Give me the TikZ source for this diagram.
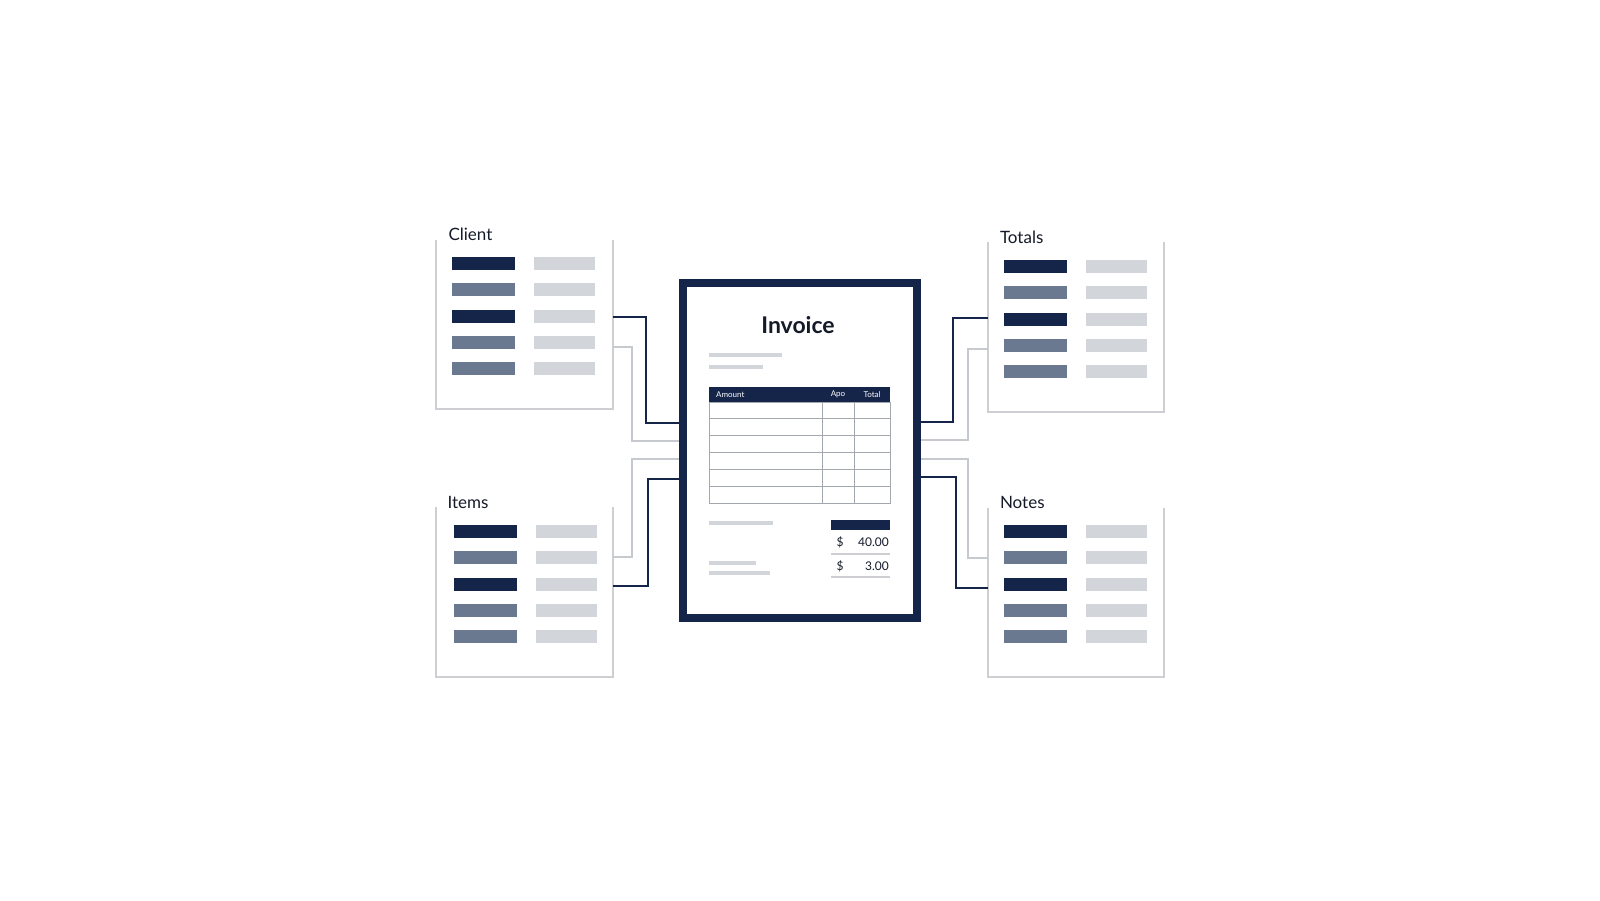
\documentclass[tikz,border=0pt]{standalone}
\usepackage{fontspec}
\setmainfont{Lato}
\usetikzlibrary{calc}
\definecolor{navy}{HTML}{15254A}
\definecolor{slate}{HTML}{6B7990}
\definecolor{barlight}{HTML}{D2D5DA}
\definecolor{edge}{HTML}{CDCFD2}
\definecolor{rule}{HTML}{A3A7AE}
\definecolor{wire}{HTML}{C6C9CD}
\definecolor{ink}{HTML}{141A28}

\begin{document}
\begin{tikzpicture}[x=1pt,y=-1pt,
    panel/.style={minimum width=176pt,minimum height=169pt,inner sep=0pt},
    frame/.style={draw=edge,line width=2pt},
    paneltitle/.style={anchor=base west,inner sep=0pt,text=ink,font=\fontsize{17}{20}\selectfont},
    linkdark/.style={draw=navy,line width=2pt},
    linklight/.style={draw=wire,line width=2pt},
    tableline/.style={draw=rule,line width=1pt},
    hdr/.style={inner sep=0pt,text=white,font=\fontsize{8}{9}\selectfont},
    amount/.style={inner sep=0pt,text=ink,font=\fontsize{12}{14}\selectfont}]
\useasboundingbox (0,0) rectangle (1600,900);

% side panels
\node[panel] (client) at (524.5,324.5) {};
\node[panel] (items) at (524.5,592) {};
\node[panel] (totals) at (1076,327) {};
\node[panel] (notes) at (1076,592.5) {};
\foreach \p/\t/\d in {client/Client/0,items/Items/1,totals/Totals/0,notes/Notes/0}{
    \draw[frame] (\p.north west) -- (\p.south west) -- (\p.south east) -- (\p.north east);
    \node[paneltitle] (\p-title) at ($(\p.north west)+(12-\d,1)$) {\t};
    \foreach \r/\c in {24/navy,50/slate,77/navy,103/slate,129/slate}{
        \fill[\c] ($(\p.north west)+(16+2*\d,\r-6.5)$) rectangle ++(63,13);
        \fill[barlight] ($(\p.north west)+(98+2*\d,\r-6.5)$) rectangle ++(61,13);
    }
}

% invoice sheet
\node[draw=navy,line width=8pt,fill=white,minimum width=234pt,minimum height=335pt] (invoice) at (800,450.5) {};
\node[text=ink,font=\bfseries\fontsize{23}{27}\selectfont] (title) at (798,325) {Invoice};
\fill[barlight] (709,353) rectangle (782,357);
\fill[barlight] (709,365) rectangle (763,369);

% table
\fill[navy] (709,387) rectangle (890,402);
\draw[tableline] (709,402) rectangle (890,503);
\foreach \y in {418,435,452,469,486}
    \draw[tableline] (709,\y) -- (890,\y);
\foreach \x in {822,854}
    \draw[tableline] (\x,402) -- (\x,503);
\node[hdr,anchor=west] (h-amount) at (716,394.5) {Amount};
\node[hdr] (h-apo) at (838,394.5) {Apo};
\node[hdr] (h-total) at (872,394.5) {Total};

% sums
\fill[barlight] (709,521) rectangle (773,525);
\fill[barlight] (709,561) rectangle (756,565);
\fill[barlight] (709,571) rectangle (770,575);
\fill[navy] (831,520) rectangle (890,530);
\node[amount] (cur1) at (840,542) {\$};
\node[amount,anchor=east] (val1) at (889,542) {40.00};
\draw[edge,line width=1.5pt] (831,554) -- (890,554);
\node[amount] (cur2) at (840,566) {\$};
\node[amount,anchor=east] (val2) at (889,566) {3.00};
\draw[edge,line width=1.5pt] (831,577) -- (890,577);

% connectors
\draw[linkdark] (client.east |- 0,317) -| (646,423) -- (invoice.west |- 0,423);
\draw[linklight] (client.east |- 0,347) -| (632,441) -- (invoice.west |- 0,441);
\draw[linklight] (invoice.west |- 0,459) -| (632,557) -- (items.east |- 0,557);
\draw[linkdark] (invoice.west |- 0,479) -| (648,586) -- (items.east |- 0,586);
\draw[linkdark] (invoice.east |- 0,422) -| (953,318) -- (totals.west |- 0,318);
\draw[linklight] (invoice.east |- 0,440) -| (968,349) -- (totals.west |- 0,349);
\draw[linklight] (invoice.east |- 0,459) -| (968,558) -- (notes.west |- 0,558);
\draw[linkdark] (invoice.east |- 0,477) -| (956,588) -- (notes.west |- 0,588);
\end{tikzpicture}
\end{document}
